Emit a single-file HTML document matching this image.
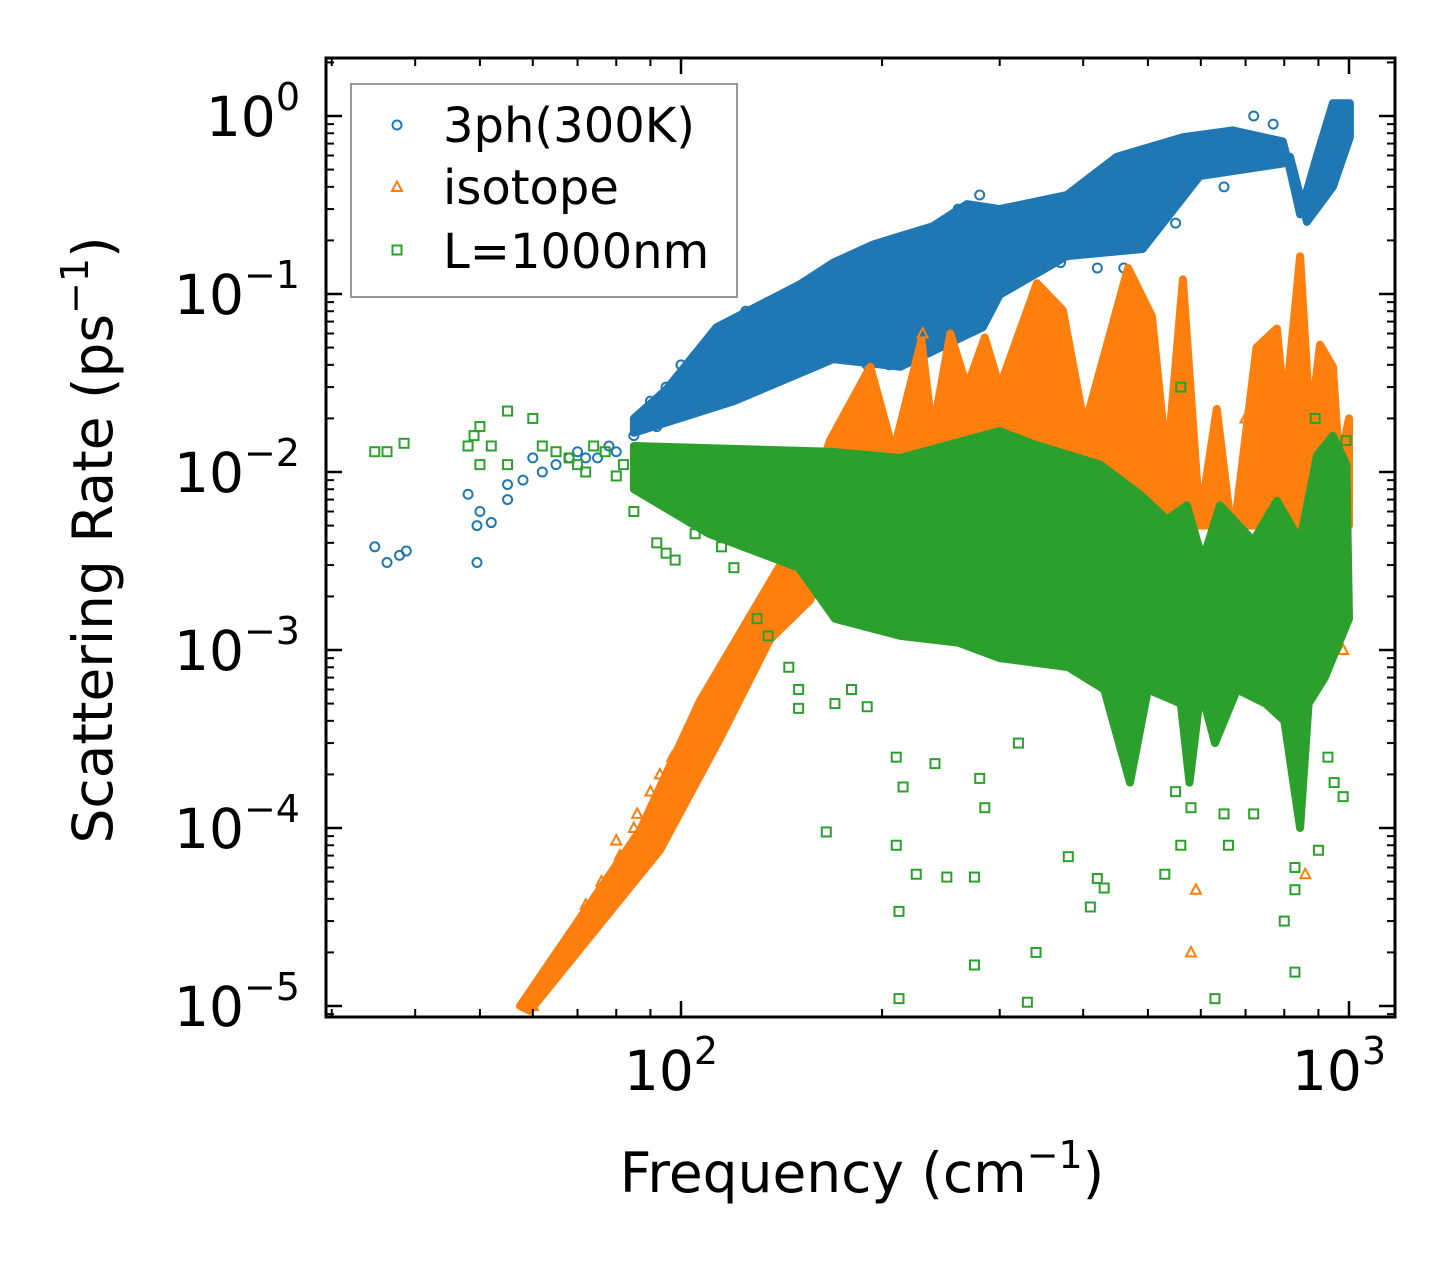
<!DOCTYPE html>
<html><head><meta charset="utf-8"><style>
html,body{margin:0;padding:0;background:#fff;}
svg{display:block;font-family:"DejaVu Sans","Liberation Sans",sans-serif;}
</style></head><body>
<svg id="chart" width="1456" height="1265" viewBox="0 0 1456 1265" xmlns="http://www.w3.org/2000/svg" style="position:absolute;left:0;top:0">
<rect width="1456" height="1265" fill="#fff"/>
<g id="plot"></g>
<g id="axes"></g>
</svg>
<script>
// ---- data ----
const xTickVals = [100, 1000];
const xTickExp = ["2", "3"];
const yTickVals = [1, 0.1, 0.01, 0.001, 1e-4, 1e-5];
const yTickExp = ["0", "\u22121", "\u22122", "\u22123", "\u22124", "\u22125"];

// dense envelopes (upper edge / lower edge)
const blueTopF = [85,95,113,151,169,194,238,268,300,378,449,564,670,796,816,845,896,946,1003];
const blueTopV = [0.02,0.029,0.065,0.114,0.15,0.19,0.24,0.32,0.30,0.36,0.59,0.76,0.83,0.72,0.5,0.28,0.6,1.18,1.18];
const blueBotF = [85,120,169,213,283,300,378,491,598,796,816,865,946,1003];
const blueBotV = [0.0166,0.025,0.043,0.039,0.065,0.099,0.163,0.179,0.46,0.54,0.59,0.254,0.40,0.76];

const orangeTopF = [57.4,86.8,106.8,131,151,167,192,208,229,238,253,268,285,300,341,373,402,467,507,534,564,598,634,670,727,780,802,845,875,905,946,967,1000];
const orangeTopV = [1e-5,9.7e-5,5.2e-4,1.9e-3,4.7e-3,0.015,0.039,0.013,0.055,0.0166,0.06,0.03,0.057,0.03,0.115,0.081,0.018,0.14,0.075,0.011,0.121,0.0053,0.0226,0.0041,0.05,0.064,0.0215,0.163,0.018,0.052,0.039,0.011,0.02];
const orangeBotF = [59.4,93,114,136,156,167,213,400,600,800,1000];
const orangeBotV = [9.4e-6,7.5e-5,3.1e-4,1.15e-3,1.9e-3,3.2e-3,5.4e-3,5e-3,5e-3,5e-3,5e-3];

const greenTopF = [85,168,213,300,336,424,486,534,572,604,641,719,780,845,896,946,991];
const greenTopV = [0.014,0.013,0.012,0.017,0.0144,0.011,0.0075,0.0054,0.0065,0.0032,0.0065,0.0041,0.0069,0.0041,0.0124,0.016,0.011];
const greenBotF = [85,110,150,170,213,260,300,380,430,470,500,560,577,600,630,680,750,800,845,870,920,1000];
const greenBotV = [0.008,0.0045,0.0029,0.0015,0.0012,0.0011,0.0009,0.0008,0.0006,1.8e-4,6e-4,5e-4,1.8e-4,6e-4,3e-4,6e-4,5e-4,4e-4,1e-4,5e-4,7e-4,1.5e-3];

// sparse points
const blueX = [34.8,36.3,37.9,38.8,48,49.5,50,49.5,52,55,55,58,60,62,65,68,70,72,75,78,80,85,88,90,92,95,97,100,105,115,125,135,140,160,175,190,205,240,260,280,300,330,370,420,460,550,650,720,770,950,990,230,245];
const blueY = [0.0038,0.0031,0.0034,0.0036,0.0075,0.005,0.006,0.0031,0.0052,0.0085,0.007,0.009,0.012,0.01,0.011,0.012,0.013,0.012,0.012,0.014,0.013,0.016,0.02,0.025,0.018,0.03,0.022,0.04,0.045,0.06,0.08,0.09,0.06,0.055,0.05,0.04,0.04,0.06,0.3,0.36,0.18,0.2,0.15,0.14,0.14,0.25,0.4,1.0,0.9,1.15,1.1,0.1,0.08];

const orangeX = [60,62,63,66,68,70,72,73,74,76,80,81,82,85,86,90,93,97,230,590,580,600,860,840,610,980,700];
const orangeY = [1e-5,1.3e-5,1.5e-5,2.1e-5,2.3e-5,2.8e-5,3.7e-5,3.5e-5,4e-5,5e-5,8.5e-5,7e-5,6e-5,1e-4,1.2e-4,1.6e-4,2e-4,2.5e-4,0.06,4.5e-5,2e-5,7.5e-4,5.5e-5,0.07,1e-3,1e-3,0.02];

const greenX = [34.8,36.3,38.5,48,49,50,50,52,55,55,60,62,65,68,70,72,74,77,80,82,85,88,90,92,95,98,105,115,120,130,135,145,150,150,165,170,180,190,210,212,212,210,215,225,240,250,275,275,280,285,320,330,340,380,410,420,430,530,550,560,580,630,650,660,720,800,830,830,830,900,930,950,980,560,990,890];
const greenY = [0.013,0.013,0.0145,0.014,0.016,0.018,0.011,0.014,0.022,0.011,0.02,0.014,0.013,0.012,0.011,0.01,0.014,0.013,0.0095,0.011,0.006,0.009,0.012,0.004,0.0035,0.0032,0.0045,0.0038,0.0029,0.0015,0.0012,0.0008,6e-4,4.7e-4,9.5e-5,5e-4,6e-4,4.8e-4,8e-5,3.4e-5,1.1e-5,2.5e-4,1.7e-4,5.5e-5,2.3e-4,5.3e-5,5.3e-5,1.7e-5,1.9e-4,1.3e-4,3e-4,1.05e-5,2e-5,6.9e-5,3.6e-5,5.2e-5,4.6e-5,5.5e-5,1.6e-4,8e-5,1.3e-4,1.1e-5,1.2e-4,8e-5,1.2e-4,3e-5,1.55e-5,4.5e-5,6e-5,7.5e-5,2.5e-4,1.8e-4,1.5e-4,0.03,0.015,0.02];

// ---- scales ----
const L = 326, R = 1395, T = 58, B = 1017;
const X10 = 681, XDEC = 668;
const Y1 = 116, YDEC = 178;
function sx(v){ return X10 + (Math.log10(v) - 2) * XDEC; }
function sy(v){ return Y1 - Math.log10(v) * YDEC; }

const NS = "http://www.w3.org/2000/svg";
function mk(tag, attrs, parent){
  const e = document.createElementNS(NS, tag);
  for (const k in attrs) e.setAttribute(k, attrs[k]);
  parent.appendChild(e);
  return e;
}
const plot = document.getElementById('plot');
const axes = document.getElementById('axes');
const C_BLUE = "#1f77b4", C_OR = "#ff7f0e", C_GR = "#2ca02c";

const defs = mk('defs', {}, document.getElementById('chart'));
const cp = mk('clipPath', {id: 'clip'}, defs);
mk('rect', {x: L, y: T, width: R - L, height: B - T}, cp);
plot.setAttribute('clip-path', 'url(#clip)');

function band(TF, TV, BF, BV, color, name){
  let pts = [];
  for (let i = 0; i < TF.length; i++) pts.push(sx(TF[i]).toFixed(1) + "," + sy(TV[i]).toFixed(1));
  for (let i = BF.length - 1; i >= 0; i--) pts.push(sx(BF[i]).toFixed(1) + "," + sy(BV[i]).toFixed(1));
  const p = mk('polygon', {points: pts.join(" "), fill: color, stroke: color, 'stroke-width': 8, 'stroke-linejoin': 'round'}, plot);
  
  
}
function marker(kind, x, y, color, parent){
  if (kind === 'o') return mk('circle', {cx: x, cy: y, r: 4.5, fill: 'none', stroke: color, 'stroke-width': 2}, parent);
  if (kind === '^') return mk('polygon', {points: `${x},${y-5.5} ${x-5},${y+4} ${x+5},${y+4}`, fill: 'none', stroke: color, 'stroke-width': 2}, parent);
  return mk('rect', {x: x - 4.5, y: y - 4.5, width: 9, height: 9, fill: 'none', stroke: color, 'stroke-width': 2}, parent);
}
function scatter(X, Y, kind, color, name){
  const g = mk('g', {}, plot);
  
  
  for (let i = 0; i < X.length; i++){
    const m = marker(kind, sx(X[i]), sy(Y[i]), color, g);
    
    
  }
}

band(blueTopF, blueTopV, blueBotF, blueBotV, C_BLUE, '3ph-dense-band');
scatter(blueX, blueY, 'o', C_BLUE, '3ph-series');
band(orangeTopF, orangeTopV, orangeBotF, orangeBotV, C_OR, 'isotope-dense-band');
scatter(orangeX, orangeY, '^', C_OR, 'isotope-series');
band(greenTopF, greenTopV, greenBotF, greenBotV, C_GR, 'boundary-dense-band');
scatter(greenX, greenY, 's', C_GR, 'boundary-series');

// ---- axes ----
const frame = mk('rect', {x: L, y: T, width: R - L, height: B - T, fill: 'none', stroke: '#000', 'stroke-width': 3}, axes);


function tl(x1, y1, x2, y2, w){ mk('line', {x1, y1, x2, y2, stroke: '#000', 'stroke-width': w}, axes); }
for (let d = 1; d <= 3; d++){
  for (let m = 1; m <= 9; m++){
    const x = sx(m * Math.pow(10, d));
    if (x < L || x > R) continue;
    const len = m === 1 ? 16 : 8, w = m === 1 ? 2.5 : 2;
    tl(x, B, x, B - len, w); tl(x, T, x, T + len, w);
  }
}
for (let d = -6; d <= 0; d++){
  for (let m = 1; m <= 9; m++){
    const y = sy(m * Math.pow(10, d));
    if (y < T || y > B) continue;
    const len = m === 1 ? 16 : 8, w = m === 1 ? 2.5 : 2;
    tl(L, y, L + len, y, w); tl(R, y, R - len, y, w);
  }
}
for (let i = 0; i < xTickVals.length; i++){
  const t = mk('text', {x: sx(xTickVals[i]) - 10, y: 1090, 'font-size': 55, 'text-anchor': 'middle', fill: '#000'}, axes);
  
  
  t.textContent = "10";
  const s = mk('tspan', {'font-size': 38, dy: -26}, t);
  s.textContent = xTickExp[i];
}
for (let i = 0; i < yTickVals.length; i++){
  const t = mk('text', {x: 300, y: sy(yTickVals[i]) + 20, 'font-size': 55, 'text-anchor': 'end', fill: '#000'}, axes);
  
  
  const a = mk('tspan', {}, t); a.textContent = "10";
  const s = mk('tspan', {'font-size': 38, dy: -26}, t);
  s.textContent = yTickExp[i];
}
</script>
<svg width="1456" height="1265" style="position:absolute;left:0;top:0" xmlns="http://www.w3.org/2000/svg">
  <text x="862" y="1192" font-family="DejaVu Sans, Liberation Sans, sans-serif" font-size="55" text-anchor="middle">Frequency (cm<tspan font-size="38" dy="-24">−1</tspan><tspan dy="24">)</tspan></text>
  <text transform="translate(112,540) rotate(-90)" font-family="DejaVu Sans, Liberation Sans, sans-serif" font-size="55" text-anchor="middle">Scattering Rate (ps<tspan font-size="38" dy="-24">−1</tspan><tspan dy="24">)</tspan></text>
  <g>
    <rect x="351" y="84" width="386" height="213" fill="#fff" fill-opacity="0.8" stroke="#999" stroke-width="2"/>
    <circle cx="397" cy="125" r="4.5" fill="none" stroke="#1f77b4" stroke-width="2"/>
    <text x="443" y="142" font-family="DejaVu Sans, Liberation Sans, sans-serif" font-size="48">3ph(300K)</text>
    <polygon points="397,181.5 392,191 402,191" fill="none" stroke="#ff7f0e" stroke-width="2"/>
    <text x="443" y="204" font-family="DejaVu Sans, Liberation Sans, sans-serif" font-size="48">isotope</text>
    <rect x="392.5" y="245.5" width="9" height="9" fill="none" stroke="#2ca02c" stroke-width="2"/>
    <text x="443" y="268" font-family="DejaVu Sans, Liberation Sans, sans-serif" font-size="48">L=1000nm</text>
  </g>
</svg>
</body></html>
